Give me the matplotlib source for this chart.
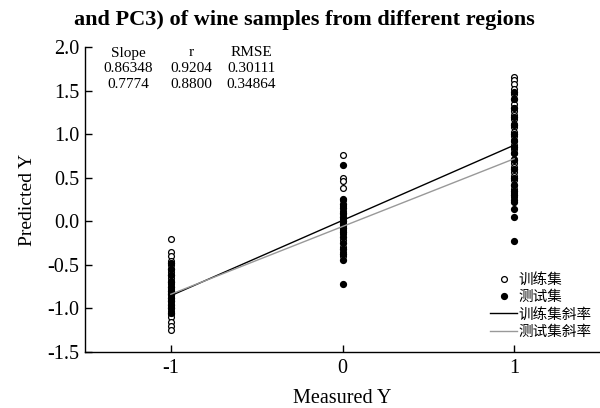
import matplotlib
matplotlib.use('Agg')
import matplotlib.pyplot as plt
from matplotlib.lines import Line2D

plt.rcParams['font.family'] = ['Liberation Serif', 'Noto Sans CJK SC']

# predicted values at each measured class
train_x_m1 = [-0.20, -0.35, -0.40, -0.45, -0.50, -0.55, -0.58, -0.62, -0.65, -0.68,
              -0.70, -0.72, -0.75, -0.78, -0.80, -0.82, -0.85, -0.88, -0.90, -0.92,
              -0.95, -0.98, -1.00, -1.03, -1.06, -1.10, -1.15, -1.20, -1.25]
train_x_0 = [0.76, 0.50, 0.46, 0.38, 0.25, 0.18, 0.12, 0.08, 0.03, 0.00, -0.05,
             -0.10, -0.15, -0.22, -0.30, -0.35, -0.40]
train_x_1 = [1.66, 1.62, 1.57, 1.52, 1.46, 1.40, 1.35, 1.30, 1.26, 1.22, 1.17, 1.12,
             1.08, 1.03, 0.98, 0.93, 0.88, 0.83, 0.78, 0.72, 0.67, 0.62, 0.57, 0.52,
             0.47, 0.42, 0.37, 0.33, 0.28]

test_x_m1 = [-0.48, -0.55, -0.62, -0.70, -0.75, -0.80, -0.84, -0.88, -0.92, -0.96,
             -1.00, -1.05]
test_x_0 = [0.65, 0.26, 0.20, 0.15, 0.10, 0.05, 0.00, -0.03, -0.08, -0.12, -0.18,
            -0.25, -0.32, -0.38, -0.44, -0.72]
test_x_1 = [1.48, 1.40, 1.30, 1.20, 1.10, 1.00, 0.92, 0.85, 0.78, 0.70, 0.60, 0.50,
            0.42, 0.35, 0.30, 0.25, 0.22, 0.14, 0.05, -0.23]

# fitted lines: (slope, intercept)
train_fit = (0.86348, 0.01)
test_fit = (0.7774, -0.06)

table_header = ['Slope', 'r', 'RMSE']
table_rows = [['0.86348', '0.9204', '0.30111'],
              ['0.7774', '0.8800', '0.34864']]

legend_labels = ['训练集', '测试集', '训练集斜率', '测试集斜率']

fig = plt.figure(figsize=(6, 4.08), dpi=100)
ax = fig.add_axes([85 / 600, 56 / 408, 515 / 600, 305 / 408])

train_y = [train_x_m1, train_x_0, train_x_1]
test_y = [test_x_m1, test_x_0, test_x_1]
for xv, vals in zip([-1, 0, 1], train_y):
    ax.plot([xv] * len(vals), vals, 'o', ms=4.2, mfc='white', mec='black', mew=0.9, zorder=3)
for xv, vals in zip([-1, 0, 1], test_y):
    ax.plot([xv] * len(vals), vals, 'o', ms=4.2, mfc='black', mec='black', zorder=4)

xs = [-1, 1]
ax.plot(xs, [train_fit[0] * x + train_fit[1] for x in xs], color='black', lw=1.0, zorder=5)
ax.plot(xs, [test_fit[0] * x + test_fit[1] for x in xs], color='#999999', lw=1.0, zorder=5)

ax.set_xlim(-1.5, 1.5)
ax.set_ylim(-1.5, 2.0)
ax.set_xticks([-1, 0, 1])
ax.set_xticklabels(['-1', '0', '1'])
ax.set_yticks([-1.5, -1.0, -0.5, 0.0, 0.5, 1.0, 1.5, 2.0])
ax.set_yticklabels(['-1.5', '-1.0', '-0.5', '0.0', '0.5', '1.0', '1.5', '2.0'])
ax.spines['top'].set_visible(False)
ax.spines['right'].set_visible(False)
for s in ['left', 'bottom']:
    ax.spines[s].set_linewidth(1.0)
ax.tick_params(direction='in', length=5, width=1.0, labelsize=14.5)
ax.tick_params(axis='y', pad=4)
ax.tick_params(axis='x', pad=5)

ax.set_xlabel('Measured Y', fontsize=14.5, labelpad=8)
ax.set_ylabel('Predicted Y', fontsize=14, labelpad=8)

fig.text(0.508, 0.952, 'and PC3) of wine samples from different regions',
         ha='center', va='center', fontsize=16, fontweight='bold')

col_x = [128, 191, 251]
row_y = [53, 69, 85]
col_x = [(c - 85) / 515 for c in col_x]
row_y = [(352 - r) / 305 for r in row_y]
for cx, h in zip(col_x, table_header):
    ax.text(cx, row_y[0], h, transform=ax.transAxes, ha='center', va='center', fontsize=11)
for ry, row in zip(row_y[1:], table_rows):
    for cx, v in zip(col_x, row):
        ax.text(cx, ry, v, transform=ax.transAxes, ha='center', va='center', fontsize=11)

handles = [
    Line2D([], [], ls='none', marker='o', ms=4.2, mfc='white', mec='black', mew=0.9),
    Line2D([], [], ls='none', marker='o', ms=4.2, mfc='black', mec='black'),
    Line2D([], [], color='black', lw=1.0),
    Line2D([], [], color='#999999', lw=1.0),
]
leg = ax.legend(handles, legend_labels, loc='lower right', bbox_to_anchor=(1.0, 0.015),
                frameon=False, handlelength=1.8, handletextpad=0.1,
                labelspacing=0.22, borderaxespad=0.2,
                prop={'family': ['Noto Sans CJK SC'], 'size': 10.5})

fig.savefig('out.png', dpi=100)
